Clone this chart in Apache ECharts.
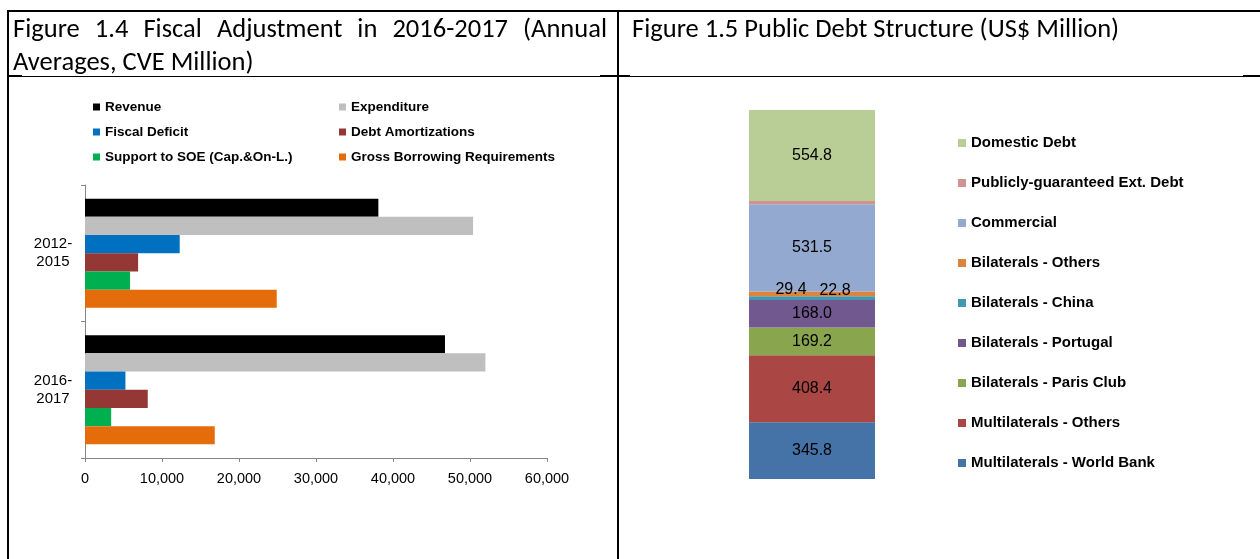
<!DOCTYPE html>
<html>
<head>
<meta charset="utf-8">
<script src="https://cdn.jsdelivr.net/npm/echarts@6/dist/echarts.min.js"></script>
<style>
  html, body { margin: 0; padding: 0; background: #fff; }
  #page { position: relative; width: 1260px; height: 559px; overflow: hidden; }
  #chart { position: absolute; left: 0; top: 0; width: 1260px; height: 559px; }
  .rule { position: absolute; background: #000; }
  .cap {
    position: absolute; top: 12px;
    font-family: 'Carlito', 'Lato', sans-serif; font-size: 26.5px; line-height: 33px;
    color: #000; text-align: justify; text-align-last: left;
  }
</style>
</head>
<body>
<div id="page">
  <div id="chart"></div>
  <!-- table frame -->
  <div class="rule" style="left:7px;top:10px;width:1253px;height:2px"></div>
  <div class="rule" style="left:7px;top:10px;width:2px;height:549px"></div>
  <div class="rule" style="left:617px;top:10px;width:2px;height:549px"></div>
  <div class="rule" style="left:9px;top:76px;width:1251px;height:1px"></div>
  <div class="rule" style="left:9px;top:75px;width:13px;height:2px"></div>
  <div class="rule" style="left:600px;top:75px;width:30px;height:2px"></div>
  <div class="rule" style="left:1243px;top:75px;width:17px;height:2px"></div>
  <div class="cap" style="left:13px;width:594px">Figure 1.4 Fiscal Adjustment in 2016-2017 (Annual Averages, CVE Million)</div>
  <div class="cap" style="left:632px;width:620px">Figure 1.5 Public Debt Structure (US$ Million)</div>
</div>
<script>
// Figure 1.4: annual averages, CVE million
const periods = ['2012-\n2015', '2016-\n2017'];
const revenue = [38100, 46750];
const expenditure = [50400, 52000];
const fiscalDeficit = [12300, 5250];
const debtAmortizations = [6900, 8150];
const supportSOE = [5850, 3400];
const grossBorrowing = [24900, 16850];
const valueTicks = [0, 60000, 10000]; // min, max, step

// Figure 1.5: public debt stock, US$ million (bottom of stack first)
const debtNames = [
  'Multilaterals - World Bank', 'Multilaterals - Others', 'Bilaterals - Paris Club',
  'Bilaterals - Portugal', 'Bilaterals - China', 'Bilaterals - Others',
  'Commercial', 'Publicly-guaranteed Ext. Debt', 'Domestic Debt'
];
const debtValues = [345.8, 408.4, 169.2, 168.0, 22.8, 29.4, 531.5, 20.0, 554.8];

const FONT = "'Liberation Sans', Arial, sans-serif";

const fiscalSeries = [
  ['Revenue', revenue, '#000000'],
  ['Expenditure', expenditure, '#bfbfbf'],
  ['Fiscal Deficit', fiscalDeficit, '#0070c0'],
  ['Debt Amortizations', debtAmortizations, '#953735'],
  ['Support to SOE (Cap.&On-L.)', supportSOE, '#00b050'],
  ['Gross Borrowing Requirements', grossBorrowing, '#e46c0a']
];

const debtColors = ['#4572a7', '#aa4643', '#89a54e', '#71588f', '#4198af',
                    '#db843d', '#93a9cf', '#d19392', '#b9cd96'];
const debtTotal = debtValues.reduce((a, b) => a + b, 0);

// per-segment label tweaks for the thin slivers
const labelTweaks = {
  'Bilaterals - Others': { offset: [-21, -4] },
  'Bilaterals - China': { offset: [23, -8] },
  'Publicly-guaranteed Ext. Debt': { show: false }
};

const series = [];
fiscalSeries.forEach(([name, data, color]) => {
  series.push({
    name, type: 'bar', xAxisIndex: 0, yAxisIndex: 0, data,
    itemStyle: { color }, barGap: '0%', barCategoryGap: '20%'
  });
});
debtNames.forEach((name, i) => {
  const tweak = labelTweaks[name] || {};
  series.push({
    name, type: 'bar', stack: 'debt', xAxisIndex: 1, yAxisIndex: 1,
    data: [debtValues[i]], barCategoryGap: '0%',
    itemStyle: { color: debtColors[i] },
    label: Object.assign({
      show: true, position: 'inside', color: '#000',
      fontFamily: FONT, fontSize: 16,
      formatter: p => p.value.toFixed(1)
    }, tweak)
  });
});

const legendText = (size) => ({ fontFamily: FONT, fontSize: size, fontWeight: 'bold', color: '#000' });

const chart = echarts.init(document.getElementById('chart'), null, { renderer: 'canvas' });
chart.setOption({
  animation: false,
  textStyle: { fontFamily: FONT },
  legend: [
    {
      data: fiscalSeries.filter((s, i) => i % 2 === 0).map(s => s[0]),
      orient: 'vertical', left: 93, top: 99, padding: 0, itemWidth: 7, itemHeight: 7, itemGap: 9,
      icon: 'rect', selectedMode: false,
      textStyle: Object.assign(legendText(13.5), { lineHeight: 16 })
    },
    {
      data: fiscalSeries.filter((s, i) => i % 2 === 1).map(s => s[0]),
      orient: 'vertical', left: 339, top: 99, padding: 0, itemWidth: 7, itemHeight: 7, itemGap: 9,
      icon: 'rect', selectedMode: false,
      textStyle: Object.assign(legendText(13.5), { lineHeight: 16 })
    },
    {
      data: debtNames.slice().reverse(),
      orient: 'vertical', left: 958, top: 134, padding: 0, itemWidth: 8, itemHeight: 8, itemGap: 22,
      icon: 'rect', selectedMode: false,
      textStyle: Object.assign(legendText(15), { lineHeight: 18 })
    }
  ],
  grid: [
    { left: 85, top: 185, width: 462, height: 273 },
    { left: 749, top: 110, width: 126, height: 369 }
  ],
  xAxis: [
    {
      gridIndex: 0, type: 'value', min: valueTicks[0], max: valueTicks[1], interval: valueTicks[2],
      splitLine: { show: false },
      axisLine: { show: true, lineStyle: { color: '#868686', width: 1 } },
      axisTick: { show: true, length: 4, lineStyle: { color: '#868686' } },
      axisLabel: {
        color: '#000', fontSize: 14.5, fontFamily: FONT, margin: 13,
        formatter: v => v.toLocaleString('en-US')
      }
    },
    {
      gridIndex: 1, type: 'category', data: ['Debt'], show: false
    }
  ],
  yAxis: [
    {
      gridIndex: 0, type: 'category', data: periods, inverse: true,
      axisLine: { show: true, lineStyle: { color: '#868686', width: 1 } },
      axisTick: { show: true, length: 4, lineStyle: { color: '#868686' } },
      axisLabel: { color: '#000', fontSize: 15, fontFamily: FONT, align: 'center', margin: 32, lineHeight: 18 }
    },
    {
      gridIndex: 1, type: 'value', min: 0, max: debtTotal, show: false, splitLine: { show: false }
    }
  ],
  series
});
</script>
</body>
</html>
